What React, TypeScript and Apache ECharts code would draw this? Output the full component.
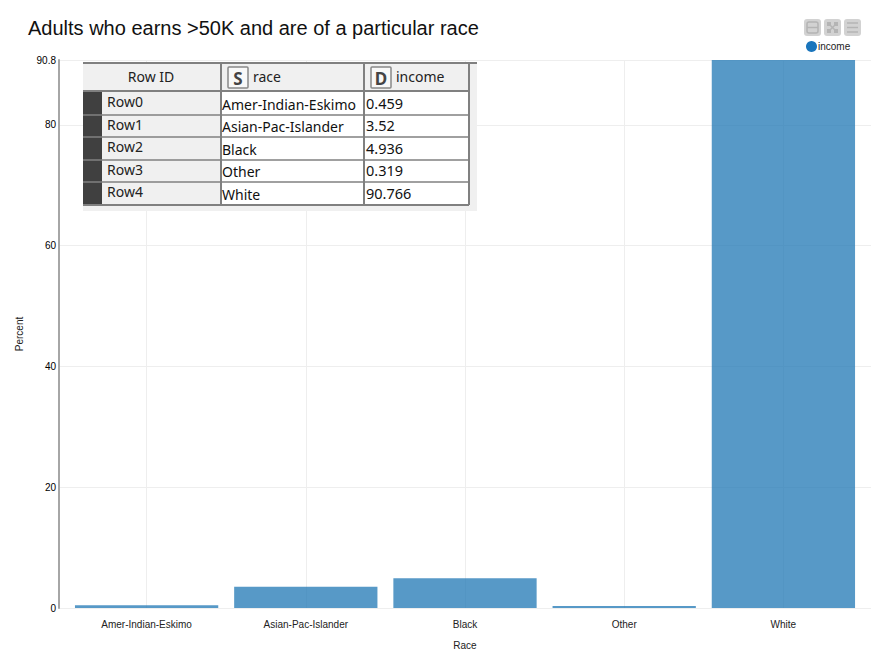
import React, { useEffect, useRef } from "react";
import * as echarts from "echarts";

const categories = ["Amer-Indian-Eskimo", "Asian-Pac-Islander", "Black", "Other", "White"];
const income = [0.459, 3.52, 4.936, 0.319, 90.766];
const rowIds = ["Row0", "Row1", "Row2", "Row3", "Row4"];
const tableHeaders = ["Row ID", "race", "income"];
const headerBadges = ["", "S", "D"];
const yMax = 90.766;

const columnX = [83, 221, 364, 469];
const rowY = [92, 115, 137, 160, 182, 205];
const tableFont = "'Noto Sans', sans-serif";

function tableGraphic(): any[] {
  const els: any[] = [];
  const add = (e: any) => els.push({ silent: true, z: 50, ...e });
  add({ type: "rect", shape: { x: 83, y: 62, width: 394, height: 149 }, style: { fill: "#f0f0f0" } });
  add({ type: "rect", shape: { x: 83, y: 92, width: 386, height: 113 }, style: { fill: "#ffffff" } });
  add({ type: "rect", shape: { x: 83, y: 92, width: 138, height: 113 }, style: { fill: "#f0f0f0" } });
  add({ type: "rect", shape: { x: 83, y: 92, width: 19, height: 113 }, style: { fill: "#404040" } });
  const border = "#808080";
  add({ type: "line", shape: { x1: 83, y1: 63, x2: 477, y2: 63 }, style: { stroke: border, lineWidth: 2 } });
  add({ type: "line", shape: { x1: 83, y1: 91, x2: 469, y2: 91 }, style: { stroke: border, lineWidth: 2 } });
  rowY.forEach((y, i) => {
    if (i > 0) add({ type: "line", shape: { x1: 83, y1: y, x2: 469, y2: y }, style: { stroke: border, lineWidth: i === 5 ? 2 : 1.5 } });
  });
  columnX.forEach((x, i) => {
    if (i > 0) add({ type: "line", shape: { x1: x, y1: 63, x2: x, y2: 205 }, style: { stroke: border, lineWidth: 2 } });
  });
  tableHeaders.forEach((h, i) => {
    const badge = headerBadges[i];
    if (badge) {
      add({ type: "rect", shape: { x: columnX[i] + 7, y: 67, width: 20, height: 21, r: 1 }, style: { fill: "#f8f8f8", stroke: "#888888", lineWidth: 1.5 } });
      add({ type: "text", style: { x: columnX[i] + 17, y: 78, text: badge, font: `bold 17px ${tableFont}`, fill: "#444444", align: "center", verticalAlign: "middle" } });
      add({ type: "text", style: { x: columnX[i] + 32, y: 76, text: h, font: `14px ${tableFont}`, fill: "#222222", align: "left", verticalAlign: "middle" } });
    } else {
      add({ type: "text", style: { x: (columnX[0] + columnX[1]) / 2 - 1, y: 76, text: h, font: `14px ${tableFont}`, fill: "#222222", align: "center", verticalAlign: "middle" } });
    }
  });
  categories.forEach((c, i) => {
    const cy = (rowY[i] + rowY[i + 1]) / 2;
    add({ type: "text", style: { x: 107, y: cy - 2, text: rowIds[i], font: `14px ${tableFont}`, fill: "#222222", align: "left", verticalAlign: "middle" } });
    add({ type: "text", style: { x: 222, y: cy + 0.5, text: c, font: `14px ${tableFont}`, fill: "#111111", align: "left", verticalAlign: "middle" } });
    add({ type: "text", style: { x: 366, y: cy - 1, text: String(income[i]), font: `14.5px ${tableFont}`, fill: "#111111", align: "left", verticalAlign: "middle" } });
  });
  return els;
}

function toolboxGraphic(): any[] {
  const els: any[] = [];
  const btnX = [804, 824, 844];
  btnX.forEach((x) => {
    els.push({ type: "rect", silent: true, shape: { x, y: 19, width: 17, height: 17, r: 3 }, style: { fill: "#d2d2d2" } });
  });
  const ink = "#b4b4b4";
  els.push({ type: "rect", silent: true, shape: { x: 807, y: 22, width: 11, height: 11, r: 2 }, style: { fill: "none", stroke: ink, lineWidth: 1.5 } });
  els.push({ type: "line", silent: true, shape: { x1: 807, y1: 27.5, x2: 818, y2: 27.5 }, style: { stroke: ink, lineWidth: 1.5 } });
  els.push({ type: "line", silent: true, shape: { x1: 829, y1: 24, x2: 836, y2: 31 }, style: { stroke: ink, lineWidth: 1.5 } });
  els.push({ type: "line", silent: true, shape: { x1: 836, y1: 24, x2: 829, y2: 31 }, style: { stroke: ink, lineWidth: 1.5 } });
  [[827, 22], [834, 22], [827, 29], [834, 29]].forEach(([x, y]) => {
    els.push({ type: "rect", silent: true, shape: { x, y, width: 4, height: 4 }, style: { fill: ink } });
  });
  [23, 27.5, 32].forEach((y) => {
    els.push({ type: "line", silent: true, shape: { x1: 847, y1: y, x2: 858, y2: y }, style: { stroke: ink, lineWidth: 1.5 } });
  });
  return els;
}

export default function App() {
  const ref = useRef<HTMLDivElement>(null);
  useEffect(() => {
    const chart = echarts.init(ref.current!, undefined, { renderer: "svg" });
    chart.setOption({
      animation: false,
      backgroundColor: "#ffffff",
      textStyle: { fontFamily: "'Liberation Sans', Arial, sans-serif" },
      title: {
        text: "Adults who earns >50K and are of a particular race",
        left: 28,
        top: 18,
        padding: 0,
        textStyle: { fontSize: 20, fontWeight: "normal", color: "#111111", fontFamily: "'Liberation Sans', Arial, sans-serif" },
      },
      legend: {
        data: [{ name: "income", icon: "circle", itemStyle: { color: "#1a75bc", opacity: 1 } }],
        left: 806,
        top: 41,
        padding: 0,
        itemWidth: 11,
        itemHeight: 11,
        itemGap: 0,
        selectedMode: false,
        textStyle: { fontSize: 10, color: "#222222", padding: [0, 0, 0, -4] },
      },
      grid: [
        { left: 59, right: 15, top: 60, bottom: 62 },
        { left: 67, right: 23, top: 60, bottom: 62 },
      ],
      xAxis: [
        { type: "value", gridIndex: 0, min: 0, max: 1, show: false },
        {
          type: "category",
          gridIndex: 1,
          data: categories,
          name: "Race",
          nameLocation: "middle",
          nameGap: 32,
          nameTextStyle: { fontSize: 10, color: "#222222" },
          axisLine: { show: false },
          axisTick: { show: false },
          axisLabel: { fontSize: 10, color: "#222222", margin: 11, interval: 0 },
        },
      ],
      yAxis: [
        {
          type: "value",
          gridIndex: 0,
          min: 0,
          max: yMax,
          interval: 20,
          name: "Percent",
          nameLocation: "middle",
          nameGap: 35,
          nameTextStyle: { fontSize: 10, color: "#222222" },
          axisLine: { show: true, lineStyle: { color: "#a6a6a6", width: 2 } },
          axisTick: { show: false },
          axisLabel: {
            fontSize: 10,
            color: "#000000",
            margin: 3,
            showMaxLabel: true,
            formatter: (v: number) => (Number.isInteger(v) ? String(v) : v.toFixed(1)),
          },
          splitLine: { show: true, lineStyle: { color: "#eeeeee", width: 1 } },
        },
        { type: "value", gridIndex: 1, min: 0, max: yMax, show: false },
      ],
      series: [
        {
          type: "bar",
          name: "income",
          xAxisIndex: 1,
          yAxisIndex: 1,
          data: income,
          barWidth: "90%",
          barMinHeight: 2,
          z: 3,
          itemStyle: { color: "rgba(31,119,180,0.75)" },
          markLine: {
            silent: true,
            z: 1,
            symbol: "none",
            label: { show: false },
            lineStyle: { color: "#eeeeee", width: 1, type: "solid" },
            data: categories.map((c) => ({ xAxis: c })),
          },
        },
      ],
      graphic: { elements: [...toolboxGraphic(), ...tableGraphic()] },
    });
    return () => chart.dispose();
  }, []);
  return <div ref={ref} style={{ position: "fixed", left: 0, top: 0, width: 886, height: 670 }} />;
}
